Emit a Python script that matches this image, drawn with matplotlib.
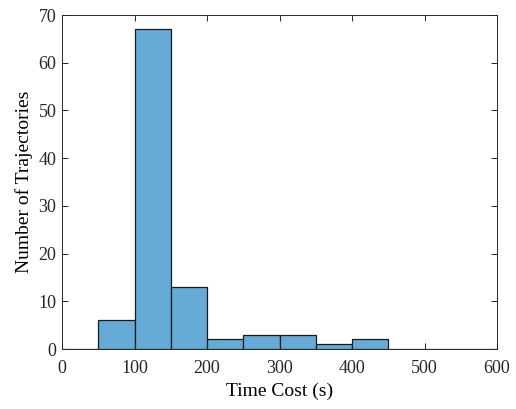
import matplotlib
matplotlib.use("Agg")
import matplotlib.pyplot as plt
import numpy as np

# Histogram counts of trajectory time costs (bin width 50 s)
bin_edges = [0, 50, 100, 150, 200, 250, 300, 350, 400, 450, 500, 550, 600]
counts = [0, 6, 67, 13, 2, 3, 3, 1, 2, 0, 0, 0]
x_ticks = [0, 100, 200, 300, 400, 500, 600]
y_ticks = [0, 10, 20, 30, 40, 50, 60, 70]

plt.rcParams['font.family'] = ['Liberation Serif', 'DejaVu Serif']
plt.rcParams['mathtext.fontset'] = 'stix'

fig = plt.figure(figsize=(5.16, 4.09), dpi=100)
ax = fig.add_axes([62/516, 60/409, 435/516, 334/409])

axis_color = '#262626'
face = (0.4 + 0.6*0.0, 0.4 + 0.6*0.4470, 0.4 + 0.6*0.7410)

ax.hist(bin_edges[:-1], bins=bin_edges, weights=counts,
        color=face, edgecolor='#1a1a1a', linewidth=0.9)

ax.set_xlim(0, 600)
ax.set_ylim(0, 70)
ax.set_xticks(x_ticks)
ax.set_yticks(y_ticks)
ax.tick_params(direction='in', top=True, right=True, length=4,
               width=0.7, colors=axis_color, labelsize=13, pad=4)
ax.tick_params(axis='x', pad=8)
for s in ax.spines.values():
    s.set_color(axis_color)
    s.set_linewidth(0.7)

ax.set_xlabel('Time Cost (s)', fontsize=14, color='black', labelpad=4)
ax.set_ylabel('Number of Trajectories', fontsize=14, color='black', labelpad=4)

fig.savefig('out.png', dpi=100)
